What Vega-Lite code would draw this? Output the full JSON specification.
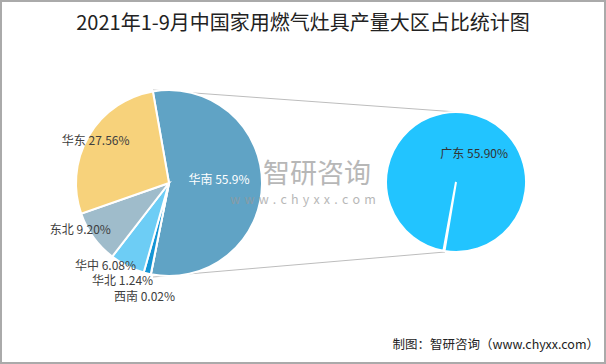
{
  "$schema": "https://vega.github.io/schema/vega-lite/v6.json",
  "autosize": {"type": "fit", "contains": "padding"},
  "width": 606,
  "height": 364,
  "padding": 1,
  "background": "white",
  "config": {"view": {"stroke": "#aaaaaa", "strokeWidth": 2}, "font": "Noto Sans CJK SC"},
  "datasets": {
    "main": [
      {"region": "华南", "value": 55.9, "label": "华南 55.9%", "idx": 1},
      {"region": "西南", "value": 0.02, "label": "西南 0.02%", "idx": 2},
      {"region": "华北", "value": 1.24, "label": "华北 1.24%", "idx": 3},
      {"region": "华中", "value": 6.08, "label": "华中 6.08%", "idx": 4},
      {"region": "东北", "value": 9.2, "label": "东北 9.20%", "idx": 5},
      {"region": "华东", "value": 27.56, "label": "华东 27.56%", "idx": 6}
    ],
    "sub": [
      {"region": "广东", "value": 55.9, "label": "广东 55.90%"}
    ],
    "note": [{}]
  },
  "resolve": {"scale": {"theta": "independent", "color": "independent"}},
  "layer": [
    {
      "data": {"name": "note"},
      "mark": {"type": "rule", "stroke": "#bdbdbd", "strokeWidth": 1},
      "encoding": {"x": {"value": 152}, "y": {"value": 89}, "x2": {"value": 456}, "y2": {"value": 111}}
    },
    {
      "data": {"name": "note"},
      "mark": {"type": "rule", "stroke": "#bdbdbd", "strokeWidth": 1},
      "encoding": {"x": {"value": 152}, "y": {"value": 276}, "x2": {"value": 444}, "y2": {"value": 251}}
    },
    {
      "data": {"name": "main"},
      "mark": {"type": "arc", "x": 168, "y": 182, "radius": 93, "stroke": "white", "strokeWidth": 2},
      "encoding": {
        "theta": {"field": "value", "type": "quantitative", "stack": true, "scale": {"domain": [0, 100], "range": [-0.1745, 6.1087]}},
        "order": {"field": "idx", "type": "quantitative"},
        "color": {"field": "region", "type": "nominal", "legend": null,
          "scale": {"domain": ["华南", "西南", "华北", "华中", "东北", "华东"],
                    "range": ["#60a3c5", "#2a6fa8", "#1495d5", "#6dcdf5", "#9fbccb", "#f7d27b"]}}
      }
    },
    {
      "data": {"name": "sub"},
      "mark": {"type": "arc", "x": 455, "y": 181, "radius": 70, "stroke": "white", "strokeWidth": 2, "color": "#22c4ff"},
      "encoding": {
        "theta": {"field": "value", "type": "quantitative", "stack": true, "scale": {"domain": [0, 55.9], "range": [3.323, 9.59]}}
      }
    },
    {
      "data": {"name": "main"},
      "mark": {"type": "text", "x": 168, "y": 182, "radius": 50, "dx": 0, "dy": -4, "fontSize": 12, "color": "white", "align": "center", "baseline": "middle"},
      "encoding": {
        "theta": {"field": "value", "type": "quantitative", "stack": true, "scale": {"domain": [0, 100], "range": [-0.1745, 6.1087]}},
        "order": {"field": "idx", "type": "quantitative"},
        "text": {"condition": {"test": "datum.region === '华南'", "field": "label"}, "value": ""}
      }
    },
    {
      "data": {"name": "main"},
      "mark": {"type": "text", "x": 168, "y": 182, "radius": 115, "dx": -2, "dy": 1, "fontSize": 12, "color": "#404040", "align": "center", "baseline": "middle"},
      "encoding": {
        "theta": {"field": "value", "type": "quantitative", "stack": true, "scale": {"domain": [0, 100], "range": [-0.1745, 6.1087]}},
        "order": {"field": "idx", "type": "quantitative"},
        "text": {"condition": {"test": "datum.region === '西南'", "field": "label"}, "value": ""}
      }
    },
    {
      "data": {"name": "main"},
      "mark": {"type": "text", "x": 168, "y": 182, "radius": 100, "dx": -23, "dy": 1, "fontSize": 12, "color": "#404040", "align": "center", "baseline": "middle"},
      "encoding": {
        "theta": {"field": "value", "type": "quantitative", "stack": true, "scale": {"domain": [0, 100], "range": [-0.1745, 6.1087]}},
        "order": {"field": "idx", "type": "quantitative"},
        "text": {"condition": {"test": "datum.region === '华北'", "field": "label"}, "value": ""}
      }
    },
    {
      "data": {"name": "main"},
      "mark": {"type": "text", "x": 168, "y": 182, "radius": 110, "dx": -14, "dy": -15, "fontSize": 12, "color": "#404040", "align": "center", "baseline": "middle"},
      "encoding": {
        "theta": {"field": "value", "type": "quantitative", "stack": true, "scale": {"domain": [0, 100], "range": [-0.1745, 6.1087]}},
        "order": {"field": "idx", "type": "quantitative"},
        "text": {"condition": {"test": "datum.region === '华中'", "field": "label"}, "value": ""}
      }
    },
    {
      "data": {"name": "main"},
      "mark": {"type": "text", "x": 168, "y": 182, "radius": 108, "dx": -1, "dy": -16, "fontSize": 12, "color": "#404040", "align": "center", "baseline": "middle"},
      "encoding": {
        "theta": {"field": "value", "type": "quantitative", "stack": true, "scale": {"domain": [0, 100], "range": [-0.1745, 6.1087]}},
        "order": {"field": "idx", "type": "quantitative"},
        "text": {"condition": {"test": "datum.region === '东北'", "field": "label"}, "value": ""}
      }
    },
    {
      "data": {"name": "main"},
      "mark": {"type": "text", "x": 168, "y": 182, "radius": 85, "dx": 0, "dy": 1, "fontSize": 12, "color": "#404040", "align": "center", "baseline": "middle"},
      "encoding": {
        "theta": {"field": "value", "type": "quantitative", "stack": true, "scale": {"domain": [0, 100], "range": [-0.1745, 6.1087]}},
        "order": {"field": "idx", "type": "quantitative"},
        "text": {"condition": {"test": "datum.region === '华东'", "field": "label"}, "value": ""}
      }
    },
    {
      "data": {"name": "sub"},
      "mark": {"type": "text", "x": 455, "y": 181, "radius": 30, "dx": 13, "dy": 2, "fontSize": 12, "color": "#333333", "align": "center", "baseline": "middle"},
      "encoding": {
        "theta": {"field": "value", "type": "quantitative", "stack": true, "scale": {"domain": [0, 55.9], "range": [3.323, 9.59]}},
        "text": {"field": "label"}
      }
    },
    {
      "data": {"name": "note"},
      "mark": {"type": "text", "x": 316, "y": 174, "text": "智研咨询", "fontSize": 27, "color": "#9a9a9a", "opacity": 0.7, "align": "center", "baseline": "middle"},
      "encoding": {}
    },
    {
      "data": {"name": "note"},
      "mark": {"type": "text", "x": 302, "y": 199, "text": "w\u2004w\u2004w\u2004.\u2004c\u2004h\u2004y\u2004x\u2004x\u2004.\u2004c\u2004o\u2004m", "fontSize": 12.5, "color": "#9a9a9a", "opacity": 0.7, "align": "center", "baseline": "middle"},
      "encoding": {}
    },
    {
      "data": {"name": "note"},
      "mark": {"type": "text", "x": 302, "y": 23, "text": "2021年1-9月中国家用燃气灶具产量大区占比统计图", "fontSize": 20, "color": "#222222", "align": "center", "baseline": "middle"},
      "encoding": {}
    },
    {
      "data": {"name": "note"},
      "mark": {"type": "text", "x": 598, "y": 344, "text": "制图：智研咨询（www.chyxx.com）", "fontSize": 12.5, "color": "#222222", "align": "right", "baseline": "middle"},
      "encoding": {}
    }
  ]
}
